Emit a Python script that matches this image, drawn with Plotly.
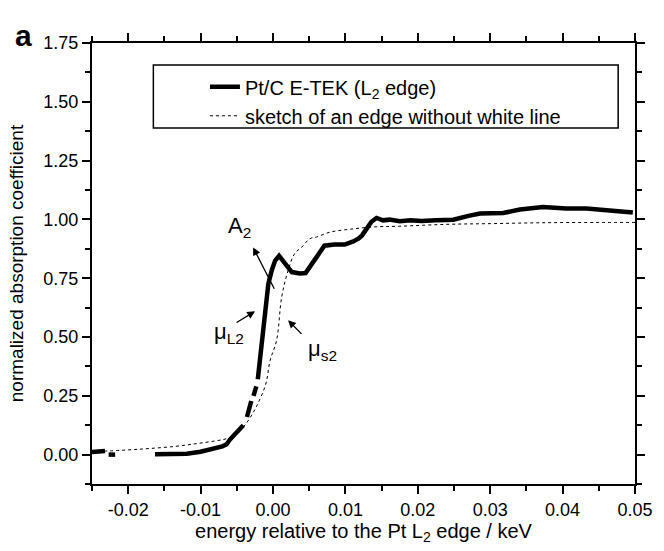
import plotly.graph_objects as go

# ---- data ----
ptc_energy = [-0.025, -0.0232, None, -0.0227, -0.0218, None,
              -0.0163, -0.0140, -0.0119, -0.0100, -0.0082, -0.0070, -0.0064, -0.0059, -0.0050, -0.0041, None,
              -0.0036, -0.0030, None,
              -0.0027, -0.0023, None,
              -0.0021, -0.00155, -0.0011, -0.00064, -0.00017, 0.0003, 0.00084, 0.0017, 0.0026, 0.0037,
              0.0045, 0.0058, 0.0071, 0.0085, 0.0099, 0.0110, 0.0118, 0.0123, 0.0129, 0.0136, 0.0143,
              0.0152, 0.0161, 0.0166, 0.0175, 0.0190, 0.0205, 0.0225, 0.0249, 0.0270, 0.0286, 0.0318,
              0.0341, 0.0373, 0.0405, 0.0433, 0.0469, 0.0497]
ptc_mu = [0.011, 0.015, None, 0.000, 0.000, None,
          0.001, 0.002, 0.004, 0.012, 0.025, 0.035, 0.044, 0.066, 0.095, 0.125, None,
          0.160, 0.228, None,
          0.250, 0.290, None,
          0.320, 0.486, 0.628, 0.727, 0.784, 0.825, 0.845, 0.810, 0.776, 0.770,
          0.772, 0.830, 0.888, 0.893, 0.893, 0.905, 0.918, 0.932, 0.962, 0.990, 1.006,
          0.996, 0.999, 0.996, 0.992, 0.996, 0.993, 0.996, 0.999, 1.015, 1.025, 1.027,
          1.042, 1.053, 1.046, 1.046, 1.039, 1.029]

sketch_energy = [-0.025, -0.020, -0.017, -0.0135, -0.0105, -0.008, -0.0064, -0.0050, -0.0041, -0.0032,
                 -0.0022, -0.0010, -0.0004, 0.0005, 0.0012, 0.0021, 0.0030, 0.0040, 0.0051, 0.0060,
                 0.0079, 0.0106, 0.0139, 0.0175, 0.0240, 0.0300, 0.0378, 0.0450, 0.0500]
sketch_mu = [0.012, 0.020, 0.026, 0.035, 0.047, 0.058, 0.068, 0.090, 0.117, 0.155,
             0.210, 0.300, 0.400, 0.486, 0.670, 0.784, 0.855, 0.883, 0.918, 0.925,
             0.946, 0.958, 0.968, 0.971, 0.979, 0.982, 0.986, 0.987, 0.987]

x_tick_vals = [-0.02, -0.01, 0.00, 0.01, 0.02, 0.03, 0.04, 0.05]
x_tick_text = ["-0.02", "-0.01", "0.00", "0.01", "0.02", "0.03", "0.04", "0.05"]
y_tick_vals = [0.00, 0.25, 0.50, 0.75, 1.00, 1.25, 1.50, 1.75]
y_tick_text = ["0.00", "0.25", "0.50", "0.75", "1.00", "1.25", "1.50", "1.75"]

FONT = "Liberation Sans, Arial, Helvetica, sans-serif"

fig = go.Figure()
fig.add_trace(go.Scatter(x=ptc_energy, y=ptc_mu, mode="lines", connectgaps=False,
                         name="Pt/C E-TEK (L<sub>2</sub> edge)",
                         line=dict(color="black", width=4.5)))
fig.add_trace(go.Scatter(x=sketch_energy, y=sketch_mu, mode="lines", line_shape="spline",
                         name="sketch of an edge without white line",
                         line=dict(color="black", width=1, dash="dot")))

axis_common = dict(showgrid=False, zeroline=False, showline=True, linecolor="black", linewidth=2,
                   mirror="ticks", ticks="outside", ticklen=8, tickwidth=2, tickcolor="black",
                   automargin=False,
                   tickfont=dict(family=FONT, size=18, color="black"))

fig.update_xaxes(range=[-0.025, 0.05], tickmode="array", tickvals=x_tick_vals, ticktext=x_tick_text,
                 minor=dict(dtick=0.005, tick0=0, ticks="outside", ticklen=5, tickwidth=2, tickcolor="black"),
                 title=dict(text="energy relative to the Pt L<sub>2</sub> edge / keV",
                            font=dict(family=FONT, size=20, color="black"), standoff=0),
                 **axis_common)
fig.update_yaxes(range=[-0.125, 1.75], tickmode="array", tickvals=y_tick_vals, ticktext=y_tick_text,
                 minor=dict(dtick=0.125, tick0=0, ticks="outside", ticklen=5, tickwidth=2, tickcolor="black"),
                 title=dict(text="normalized absorption coefficient",
                            font=dict(family=FONT, size=19, color="black")),
                 **axis_common)

arrow = dict(showarrow=True, arrowhead=2, arrowsize=1.2, arrowwidth=1.3, arrowcolor="black",
             xref="x", yref="y", axref="x", ayref="y", text="")
fig.add_annotation(x=-0.00275, y=0.881, ax=0.00028, ay=0.699, **arrow)
fig.add_annotation(x=-0.00248, y=0.609, ax=-0.00523, ay=0.558, **arrow)
fig.add_annotation(x=0.00208, y=0.571, ax=0.00415, ay=0.507, **arrow)

lab_font = dict(family=FONT, size=22, color="black")
fig.add_annotation(x=-0.00468, y=0.966, text="A<sub>2</sub>", showarrow=False, font=lab_font)
fig.add_annotation(x=-0.00606, y=0.517, text="μ<sub>L2</sub>", showarrow=False, font=lab_font)
fig.add_annotation(x=0.00677, y=0.444, text="μ<sub>s2</sub>", showarrow=False, font=lab_font)

fig.add_annotation(xref="paper", yref="paper", x=-0.145, y=1.058, text="<b>a</b>", showarrow=False,
                   font=dict(family=FONT, size=30, color="black"))

# legend frame
fig.add_shape(type="rect", xref="paper", yref="paper", x0=0.113, x1=0.969, y0=0.807, y1=0.950,
              line=dict(color="black", width=1.5), fillcolor="rgba(0,0,0,0)")

fig.update_layout(width=664, height=551, margin=dict(l=92, r=29, t=43, b=67),
                  plot_bgcolor="white", paper_bgcolor="white",
                  font=dict(family=FONT, color="black"),
                  legend=dict(x=0.208, y=0.945, xanchor="left", yanchor="top",
                              bgcolor="rgba(0,0,0,0)", borderwidth=0,
                              font=dict(family=FONT, size=20, color="black"),
                              tracegroupgap=0))

fig.write_html("out.html")
